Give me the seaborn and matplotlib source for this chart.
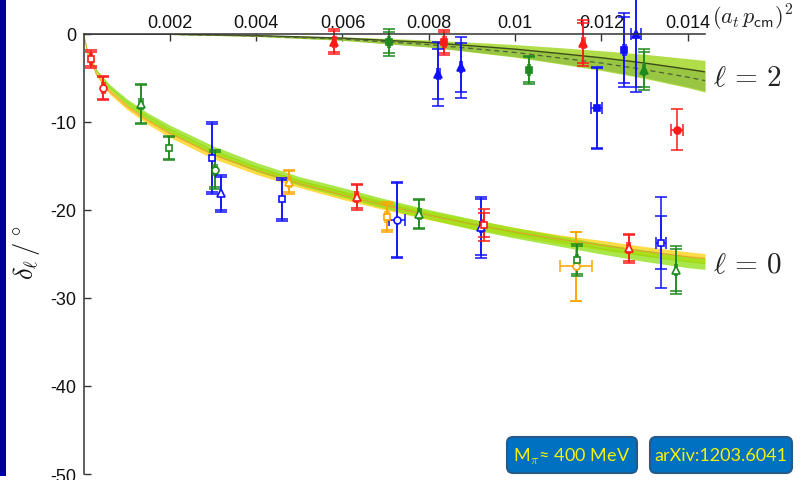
import numpy as np
import pandas as pd
import matplotlib
matplotlib.use("Agg")
import matplotlib.pyplot as plt
import seaborn as sns
from matplotlib.patches import FancyBboxPatch, Rectangle
from matplotlib.transforms import IdentityTransform

# ---------------- data ----------------
# l = 0 (open markers)
l0_x = [0.00017, 0.00046, 0.00133, 0.00199, 0.00297, 0.00305, 0.00319, 0.00461, 0.00477, 0.00633,
        0.00703, 0.00727, 0.00778, 0.00921, 0.00927, 0.01141, 0.01143, 0.01263, 0.01338, 0.01373]
l0_y = [-2.84, -6.14, -7.95, -12.95, -14.1, -15.4, -18.1, -18.8, -16.8, -18.5,
        -20.8, -21.1, -20.45, -21.97, -21.7, -26.4, -25.7, -24.35, -23.7, -26.8]
l0_err = [1.0, 1.4, 2.3, 1.4, 4.1, 2.2, 2.1, 2.4, 1.4, 1.5,
          1.7, 4.3, 1.75, 3.5, 1.8, 3.95, 1.85, 1.65, 5.2, 2.7]
l0_err_in = [0.75, 1.2, 2.2, 1.3, 3.9, 2.0, 1.9, 2.25, 1.2, 1.3,
             1.5, 4.2, 1.55, 3.2, 1.4, 3.9, 1.6, 1.5, 3.0, 2.4]
l0_xerr = [0.00003, 0.00003, 0.00004, 0.0, 0.0, 0.00005, 0.0, 0.0, 0.00003, 0.00003,
           0.00004, 0.00019, 0.00004, 0.00003, 0.00002, 0.00037, 0.00003, 0.00003, 0.00012, 0.00003]
l0_color = ["red", "red", "green", "green", "blue", "green", "blue", "blue", "orange", "red",
            "orange", "blue", "green", "blue", "red", "orange", "green", "red", "blue", "green"]
l0_marker = ["s", "o", "^", "s", "s", "o", "^", "s", "^", "^",
             "s", "o", "^", "^", "s", "o", "s", "^", "s", "^"]

# l = 2 (filled markers)
l2_x = [0.00581, 0.00708, 0.00836, 0.00822, 0.00875, 0.01032, 0.01158, 0.01189, 0.01253, 0.0128, 0.01299, 0.01375]
l2_y = [-0.87, -0.95, -0.95, -4.55, -3.8, -4.05, -1.02, -8.4, -1.78, 0.0, -4.05, -10.87]
l2_err = [1.4, 1.5, 1.4, 3.6, 3.5, 1.6, 2.65, 4.65, 4.2, 6.6, 2.3, 2.35]
l2_err_in = [1.2, 1.2, 1.2, 2.8, 2.75, 1.4, 2.3, 4.5, 3.75, 6.0, 2.0, 2.35]
l2_xerr = [0.00003, 0.00003, 0.00003, 0.00003, 0.00003, 0.00003, 0.00003, 0.00012, 0.00003, 0.00012, 0.00003, 0.00014]
l2_color = ["red", "green", "red", "blue", "blue", "green", "red", "blue", "blue", "blue", "green", "red"]
l2_marker = ["^", "s", "s", "^", "^", "s", "^", "s", "s", "^", "^", "o"]

# fit bands
band_x = [0.0, 0.0001, 0.0003, 0.0006, 0.001, 0.0015, 0.002, 0.003, 0.004, 0.005,
          0.006, 0.007, 0.008, 0.009, 0.010, 0.011, 0.012, 0.013, 0.014, 0.0144]
l0_green = [0.0, -2.0, -4.2, -6.0, -7.7, -9.4, -10.8, -13.2, -15.1, -16.7,
            -18.0, -19.3, -20.5, -21.6, -22.6, -23.5, -24.4, -25.2, -25.9, -26.1]
l0_green_hw = [0.0, 0.1, 0.2, 0.3, 0.35, 0.4, 0.45, 0.5, 0.5, 0.5,
               0.55, 0.55, 0.55, 0.6, 0.6, 0.6, 0.6, 0.65, 0.65, 0.65]
l0_yellow = [0.0, -2.3, -4.6, -6.5, -8.2, -9.9, -11.3, -13.7, -15.5, -17.0,
             -18.3, -19.5, -20.6, -21.6, -22.5, -23.3, -24.0, -24.7, -25.3, -25.5]
l0_yellow_hw = [0.0, 0.1, 0.2, 0.3, 0.35, 0.4, 0.45, 0.45, 0.45, 0.45,
                0.5, 0.5, 0.5, 0.5, 0.5, 0.5, 0.55, 0.55, 0.55, 0.55]

l2_band_x = [0.0, 0.002, 0.004, 0.006, 0.008, 0.010, 0.011, 0.012, 0.013, 0.014, 0.0144]
l2_solid = [0.0, -0.03, -0.18, -0.47, -0.97, -1.72, -2.2, -2.7, -3.3, -4.0, -4.3]
l2_dashed = [0.0, -0.04, -0.22, -0.58, -1.2, -2.1, -2.7, -3.3, -4.05, -4.9, -5.3]
l2_upper = [0.0, -0.02, -0.13, -0.33, -0.68, -1.2, -1.54, -1.9, -2.3, -2.8, -3.0]
l2_lower = [0.0, -0.05, -0.28, -0.72, -1.48, -2.63, -3.37, -4.15, -5.05, -6.1, -6.6]

x_ticks = [0.002, 0.004, 0.006, 0.008, 0.010, 0.012, 0.014]
x_ticklabels = ["0.002", "0.004", "0.006", "0.008", "0.01", "0.012", "0.014"]
y_ticks = [0, -10, -20, -30, -40, -50]
y_ticklabels = ["0", "-10", "-20", "-30", "-40", "-50"]

# ---------------- style ----------------
sns.set_theme(style="white")
plt.rcParams["font.family"] = ["Liberation Sans", "DejaVu Sans"]
plt.rcParams["mathtext.fontset"] = "cm"
plt.rcParams["axes.unicode_minus"] = False

palette = {"red": "#ff1a1a", "green": "#1f8a1f", "blue": "#1010ff", "orange": "#ffa500"}

W, H = 805, 481
fig = plt.figure(figsize=(W / 100, H / 100), dpi=100)
fig.patch.set_facecolor("white")
ax = fig.add_axes([83.5 / W, 1 - 475 / H, (705 - 83.5) / W, (475 - 35) / H])
ax.set_facecolor("white")

# bands l=0
bx = np.array(band_x)
yc = np.array(l0_yellow); yh = np.array(l0_yellow_hw)
gc = np.array(l0_green); gh = np.array(l0_green_hw)
ax.fill_between(bx, yc - yh, yc + yh, color="#ffd21a", alpha=0.8, lw=0, zorder=1)
ax.fill_between(bx, gc - gh, gc + gh, color="#8ee010", alpha=0.75, lw=0, zorder=1.1)
df0 = pd.DataFrame({"x": band_x, "yellow": l0_yellow, "green": l0_green})
sns.lineplot(data=df0, x="x", y="yellow", ax=ax, color="#ff7a3a", lw=0.8, alpha=0.6, legend=False, zorder=1.2)
sns.lineplot(data=df0, x="x", y="green", ax=ax, color="#8fd000", lw=0.6, alpha=0.6, legend=False, zorder=1.2)

# bands l=2
b2x = np.array(l2_band_x)
ax.fill_between(b2x, l2_lower, l2_upper, color="#a5d82a", alpha=0.85, lw=0, zorder=1)
ax.fill_between(b2x, np.array(l2_dashed) * 1.22, np.array(l2_solid) * 0.98, color="#7aa83a", alpha=0.45, lw=0, zorder=1.05)
df2 = pd.DataFrame({"x": l2_band_x, "solid": l2_solid, "dashed": l2_dashed})
sns.lineplot(data=df2, x="x", y="solid", ax=ax, color="#3d4d1a", lw=1.0, legend=False, zorder=1.3)
sns.lineplot(data=df2, x="x", y="dashed", ax=ax, color="#4f5f3a", lw=0.9, ls=(0, (4, 3)), legend=False, zorder=1.3)


def draw_points(xs, ys, errs, errs_in, xerrs, cols, marks, filled):
    for x, y, e, ei, xe, c, m in zip(xs, ys, errs, errs_in, xerrs, cols, marks):
        col = palette[c]
        ax.errorbar(x, y, yerr=e, xerr=xe if xe > 0 else None, fmt="none", ecolor=col,
                    elinewidth=1.1, capsize=4, capthick=1.1, zorder=3, clip_on=False)
        if abs(e - ei) > 0.05:
            ax.errorbar(x, y, yerr=ei, fmt="none", ecolor=col, elinewidth=1.1,
                        capsize=4, capthick=1.1, zorder=3, clip_on=False)
        ax.plot(x, y, marker=m, ms=5 if m != "^" else 5.5, mec=col,
                mfc=col if filled else "white", mew=1.2, ls="none", zorder=4, clip_on=False)


draw_points(l0_x, l0_y, l0_err, l0_err_in, l0_xerr, l0_color, l0_marker, False)
draw_points(l2_x, l2_y, l2_err, l2_err_in, l2_xerr, l2_color, l2_marker, True)

# axes
ax.set_xlim(0, 0.0144)
ax.set_ylim(-50, 0)
ax.xaxis.tick_top()
ax.set_xticks(x_ticks)
ax.set_xticklabels(x_ticklabels)
ax.set_yticks(y_ticks)
ax.set_yticklabels(y_ticklabels)
for s in ["right", "bottom"]:
    ax.spines[s].set_visible(False)
for s in ["top", "left"]:
    ax.spines[s].set_color("#333333")
    ax.spines[s].set_linewidth(1.1)
    ax.spines[s].set_zorder(5)
ax.tick_params(axis="x", direction="in", length=5, width=1, colors="#333333", labelcolor="#111111",
               labelsize=13, pad=2, top=True, bottom=False)
ax.tick_params(axis="y", direction="in", length=5, width=1, colors="#333333", labelcolor="#111111",
               labelsize=13, pad=5, left=True, right=False)
ax.set_xlabel("")
ax.set_ylabel("")

# labels
fig.text(712 / W, 1 - 18 / H, r"$(a_t\,p_{\mathsf{cm}})^2$", fontsize=16, ha="left", va="center", color="#222222")
fig.text(26 / W, 1 - 253 / H, r"$\delta_\ell\,/^\circ$", fontsize=19, rotation=90, ha="center", va="center", color="#111111")
ax.text(0.01458, -4.9, r"$\ell\,=\,2$", fontsize=21, ha="left", va="center", color="#222222", clip_on=False)
ax.text(0.01458, -26.1, r"$\ell\,=\,0$", fontsize=21, ha="left", va="center", color="#222222", clip_on=False)

# info boxes (pixel coordinates)
def info_box(x0, x1, y0, y1, txt):
    p = FancyBboxPatch((x0, H - y1), x1 - x0, y1 - y0, boxstyle="round,pad=0,rounding_size=6",
                       transform=IdentityTransform(), facecolor="#0070c0", edgecolor="#245a8a",
                       lw=1.5, zorder=10)
    fig.patches.append(p)
    fig.text((x0 + x1) / 2 / W, 1 - (y0 + y1) / 2 / H, txt, ha="center", va="center",
             fontsize=13, color="#f2f20a", family=["Lato", "DejaVu Sans"], zorder=11)


info_box(507, 637, 438, 474, r"M$_{\pi}$≈ 400 MeV")
info_box(650, 792, 438, 474, "arXiv:1203.6041")

# left slide border
fig.patches.append(Rectangle((0, 4), 5.5, H - 4, transform=IdentityTransform(),
                             facecolor="#00009a", edgecolor="none", zorder=10))

fig.savefig("out.png", dpi=100)
